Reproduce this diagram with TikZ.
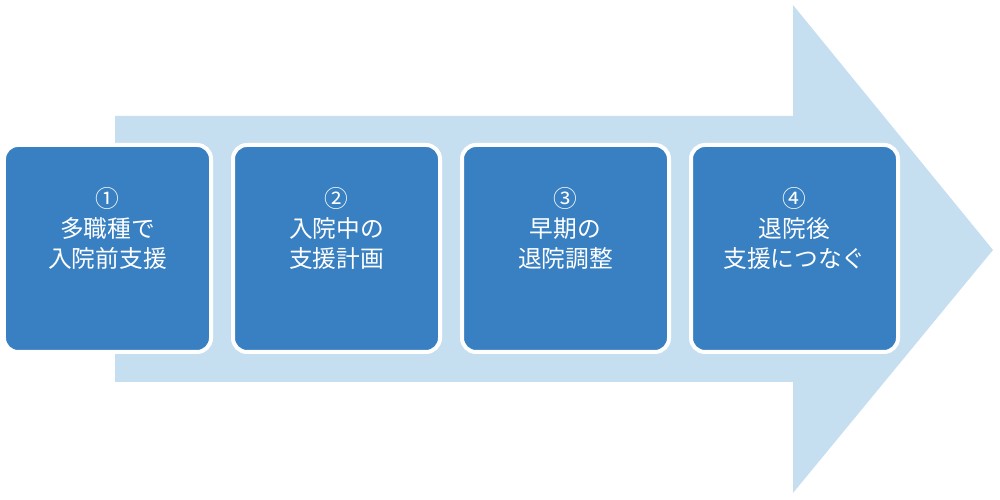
\documentclass[tikz,border=0pt]{standalone}
\usepackage{fontspec}
\setmainfont{Noto Sans CJK JP}
\usepackage{tikz}
\usetikzlibrary{shapes.misc}
\definecolor{boxblue}{RGB}{56,128,193}
\definecolor{arrowblue}{RGB}{197,223,241}

\begin{document}
\begin{tikzpicture}
		\tikzstyle{stage} = [draw=white, line width=0.08cm, fill=boxblue, rectangle, rounded corners=0.28cm, minimum width=4.14cm, minimum height=4.14cm]
		\tikzstyle{txt} = [text=white, align=center, font=\fontsize{13.5pt}{17pt}\selectfont]
		\useasboundingbox (0,0) rectangle (20,10);
		% big arrow behind the boxes
		\fill[arrowblue] (2.3,7.68) -- (15.86,7.68) -- (15.86,9.9) -- (19.86,5.0) -- (15.86,0.14) -- (15.86,2.36) -- (2.3,2.36) -- cycle;

		\node [stage] (s1) at (2.15,5.03) {};
		\node [stage] (s2) at (6.73,5.03) {};
		\node [stage] (s3) at (11.31,5.03) {};
		\node [stage] (s4) at (15.89,5.03) {};

		\node [txt] (t1) at ([yshift=0.4cm]s1.center) {①\\多職種で\\入院前支援};
		\node [txt] (t2) at ([yshift=0.4cm]s2.center) {②\\入院中の\\支援計画};
		\node [txt] (t3) at ([yshift=0.4cm]s3.center) {③\\早期の\\退院調整};
		\node [txt] (t4) at ([yshift=0.4cm]s4.center) {④\\退院後\\支援につなぐ};
		%\draw[->,thick] (s1) -- (s2);
	\end{tikzpicture}
\end{document}
